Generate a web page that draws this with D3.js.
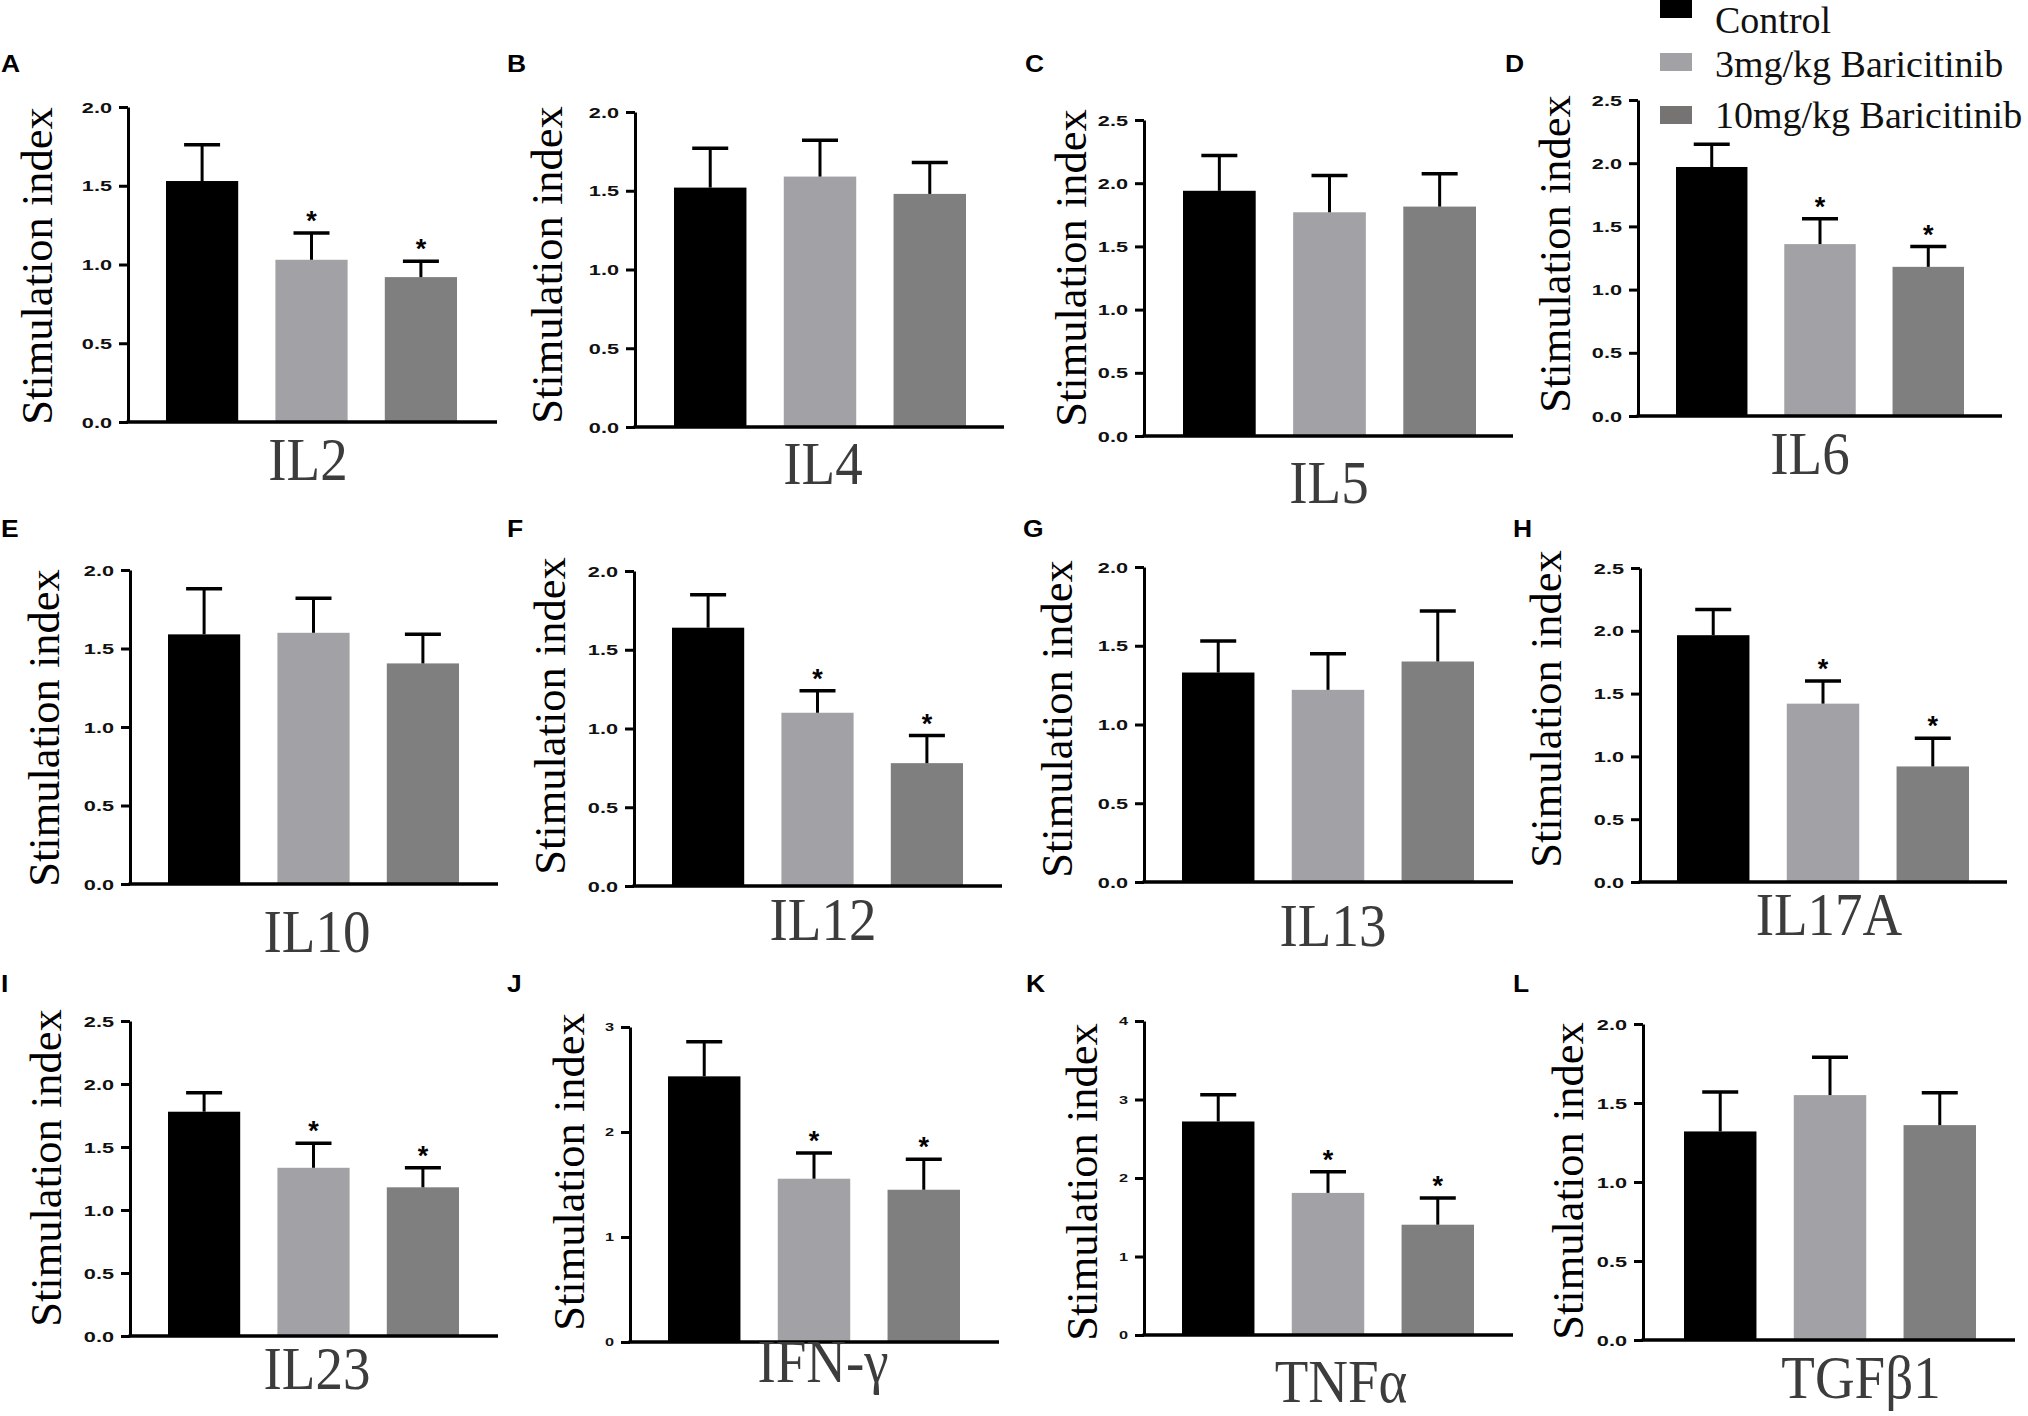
<!DOCTYPE html>
<html>
<head>
<meta charset="utf-8">
<script src="https://cdn.jsdelivr.net/npm/d3@7"></script>
<style>
  body { margin: 0; background: #fff; }
  .tick text { font-family: "Liberation Sans", Arial, sans-serif; font-weight: bold; fill: #111; }
</style>
</head>
<body>
<svg id="chart" width="2028" height="1416"></svg>
<script>
// Cytokine stimulation index, three treatment groups per panel
const groups = ["Control", "3mg/kg Baricitinib", "10mg/kg Baricitinib"];
const cytokines = ["IL2", "IL4", "IL5", "IL6", "IL10", "IL12", "IL13", "IL17A", "IL23", "IFN-γ", "TNFα", "TGFβ1"];
const panelLetters = ["A", "B", "C", "D", "E", "F", "G", "H", "I", "J", "K", "L"];

const meanValues = [
    [1.53, 1.03, 0.92],
    [1.52, 1.59, 1.48],
    [1.94, 1.77, 1.815],
    [1.97, 1.36, 1.18],
    [1.59, 1.60, 1.405],
    [1.64, 1.10, 0.78],
    [1.33, 1.22, 1.40],
    [1.965, 1.42, 0.92],
    [1.78, 1.335, 1.18],
    [2.53, 1.555, 1.45],
    [2.72, 1.81, 1.405],
    [1.32, 1.55, 1.36],
];
const semValues = [
    [0.23, 0.17, 0.10],
    [0.25, 0.23, 0.20],
    [0.28, 0.29, 0.26],
    [0.18, 0.20, 0.16],
    [0.29, 0.22, 0.185],
    [0.21, 0.14, 0.175],
    [0.20, 0.23, 0.32],
    [0.205, 0.18, 0.225],
    [0.15, 0.195, 0.155],
    [0.33, 0.245, 0.29],
    [0.34, 0.27, 0.34],
    [0.25, 0.24, 0.205],
];
const significant = [
    [0, 1, 1], [0, 0, 0], [0, 0, 0], [0, 1, 1],
    [0, 0, 0], [0, 1, 1], [0, 0, 0], [0, 1, 1],
    [0, 1, 1], [0, 1, 1], [0, 1, 1], [0, 0, 0],
];
const yMaxValues = [2, 2, 2.5, 2.5, 2, 2, 2, 2.5, 2.5, 3, 4, 2];
const tickSteps = [0.5, 0.5, 0.5, 0.5, 0.5, 0.5, 0.5, 0.5, 0.5, 1, 1, 0.5];

// panel placement (pixels)
const layout = [
    { ax: 128, x1: 497, b0: 166, b1: 457, yTop: 107, y0: 422, lx: 37, ly: 266, cx: 308, cy: 480, px: 1, py: 72 },
    { ax: 635, x1: 1004, b0: 674, b1: 966, yTop: 112, y0: 427, lx: 547, ly: 265, cx: 823, cy: 484, px: 507, py: 72 },
    { ax: 1144, x1: 1513, b0: 1183, b1: 1476, yTop: 120, y0: 436, lx: 1071, ly: 268, cx: 1329, cy: 503, px: 1025, py: 72 },
    { ax: 1638, x1: 2002, b0: 1676, b1: 1964, yTop: 100, y0: 416, lx: 1555, ly: 254, cx: 1810, cy: 474, px: 1505, py: 72 },
    { ax: 130, x1: 498, b0: 168, b1: 459, yTop: 570, y0: 884, lx: 44, ly: 728, cx: 317, cy: 952, px: 1, py: 537 },
    { ax: 634, x1: 1002, b0: 672, b1: 963, yTop: 571, y0: 886, lx: 550, ly: 716, cx: 823, cy: 940, px: 507, py: 537 },
    { ax: 1144, x1: 1513, b0: 1182, b1: 1474, yTop: 567, y0: 882, lx: 1057, ly: 719, cx: 1333, cy: 946, px: 1023, py: 537 },
    { ax: 1640, x1: 2007, b0: 1677, b1: 1969, yTop: 568, y0: 882, lx: 1546, ly: 709, cx: 1829, cy: 935, px: 1513, py: 537 },
    { ax: 130, x1: 498, b0: 168, b1: 459, yTop: 1021, y0: 1336, lx: 46, ly: 1168, cx: 317, cy: 1389, px: 1, py: 992 },
    { ax: 630, x1: 999, b0: 668, b1: 960, yTop: 1027, y0: 1342, lx: 569, ly: 1172, cx: 823, cy: 1382, px: 507, py: 992 },
    { ax: 1144, x1: 1513, b0: 1182, b1: 1474, yTop: 1021, y0: 1335, lx: 1082, ly: 1182, cx: 1341, cy: 1402, px: 1026, py: 992 },
    { ax: 1643, x1: 2015, b0: 1684, b1: 1976, yTop: 1024, y0: 1340, lx: 1568, ly: 1181, cx: 1861, cy: 1398, px: 1513, py: 992 },
];

const COLORS = ["#000000", "#a2a2a6", "#7f7f7f"];
const LEGEND_COLORS = ["#000000", "#a2a2a6", "#767373"];
const SERIF = "'Liberation Serif', 'Times New Roman', serif";
const SANS = "'Liberation Sans', Arial, sans-serif";

const svg = d3.select("#chart");

cytokines.forEach((name, p) => {
    const L = layout[p];
    const g = svg.append("g");

    const x = d3.scaleBand().domain(groups).range([L.b0, L.b1]).paddingInner(0.34).paddingOuter(0);
    const y = d3.scaleLinear().domain([0, yMaxValues[p]]).range([L.y0, L.yTop]);
    const ticks = d3.range(0, yMaxValues[p] + 1e-9, tickSteps[p]);
    const decimal = tickSteps[p] < 1;
    const fmt = decimal ? d3.format(".1f") : d3.format("d");

    // bars
    g.selectAll("rect.bar").data(groups).join("rect")
        .attr("x", d => x(d))
        .attr("y", (d, i) => y(meanValues[p][i]))
        .attr("width", x.bandwidth())
        .attr("height", (d, i) => L.y0 - y(meanValues[p][i]))
        .attr("fill", (d, i) => COLORS[i]);

    // error bars (upper only) + significance stars
    groups.forEach((grp, i) => {
        const cxb = x(grp) + x.bandwidth() / 2;
        const top = y(meanValues[p][i] + semValues[p][i]);
        g.append("line")
            .attr("x1", cxb).attr("x2", cxb)
            .attr("y1", y(meanValues[p][i])).attr("y2", top)
            .attr("stroke", "#000").attr("stroke-width", 3);
        g.append("line")
            .attr("x1", cxb - 18).attr("x2", cxb + 18)
            .attr("y1", top).attr("y2", top)
            .attr("stroke", "#000").attr("stroke-width", 3.5);
        if (significant[p][i]) {
            g.append("text")
                .attr("x", cxb).attr("y", top - 3)
                .attr("text-anchor", "middle")
                .style("font-family", SANS).style("font-weight", "bold").style("font-size", "27px")
                .text("*");
        }
    });

    // y axis
    const yAxis = g.append("g")
        .attr("transform", `translate(${L.ax},0)`)
        .call(d3.axisLeft(y).tickValues(ticks).tickFormat(fmt).tickSize(9).tickSizeOuter(0));
    yAxis.select(".domain").attr("stroke", "#000").attr("stroke-width", 3);
    yAxis.selectAll(".tick line").attr("stroke", "#000").attr("stroke-width", 3);
    // tick labels are drawn wide in the original
    yAxis.selectAll(".tick text")
        .attr("x", null)
        .attr("dy", "0.36em")
        .attr("transform", "translate(-16,0) scale(1.55,1)")
        .style("font-size", decimal ? "14px" : "10.5px");

    // x axis baseline
    g.append("line")
        .attr("x1", L.ax - 1.5).attr("x2", L.x1)
        .attr("y1", L.y0).attr("y2", L.y0)
        .attr("stroke", "#000").attr("stroke-width", 3.5);

    // y label
    g.append("text")
        .attr("transform", `translate(${L.lx},${L.ly}) rotate(-90)`)
        .attr("text-anchor", "middle")
        .attr("dominant-baseline", "central")
        .style("font-family", SERIF).style("font-size", "44.5px").style("fill", "#000")
        .text("Stimulation index");

    // category label (slightly tall in the original)
    g.append("text")
        .attr("transform", `translate(${L.cx},${L.cy}) scale(1,1.1)`)
        .attr("text-anchor", "middle")
        .style("font-family", SERIF).style("font-size", "55px").style("fill", "#3c3c3c")
        .text(name);

    // panel letter
    g.append("text")
        .attr("transform", `translate(${L.px},${L.py}) scale(1.15,1)`)
        .style("font-family", SANS).style("font-weight", "bold").style("font-size", "23px")
        .text(panelLetters[p]);
});

// legend
const legendY = [0, 53, 106];
const legendBase = [33, 77, 128];
groups.forEach((grp, i) => {
    svg.append("rect")
        .attr("x", 1660).attr("y", legendY[i])
        .attr("width", 32).attr("height", 18)
        .attr("fill", LEGEND_COLORS[i]);
    svg.append("text")
        .attr("x", 1715).attr("y", legendBase[i])
        .style("font-family", SERIF).style("font-size", "38px").style("fill", "#111")
        .text(grp);
});
</script>
</body>
</html>
